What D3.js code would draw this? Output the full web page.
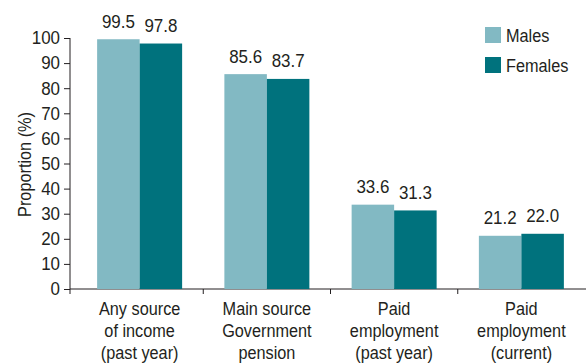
<!DOCTYPE html>
<html>
<head>
<meta charset="utf-8">
<script src="https://cdn.jsdelivr.net/npm/d3@7"></script>
<style>
  html, body { margin: 0; padding: 0; background: #fff; }
  svg text { font-family: "Liberation Sans", Arial, sans-serif; fill: #231f20; }
</style>
</head>
<body>
<svg id="chart" width="586" height="364"></svg>
<script>
// Income sources by sex
const categories = [
  ["Any source", "of income", "(past year)"],
  ["Main source", "Government", "pension"],
  ["Paid", "employment", "(past year)"],
  ["Paid", "employment", "(current)"]
];
const seriesNames = ["Males", "Females"];
const males = [99.5, 85.6, 33.6, 21.2];
const females = [97.8, 83.7, 31.3, 22.0];
const yTicks = [0, 10, 20, 30, 40, 50, 60, 70, 80, 90, 100];
const colors = ["#82b9c3", "#00727d"];

const svg = d3.select("#chart");
const axisX = 70, plotRight = 585, plotTop = 38, plotBottom = 289;

const x = d3.scaleBand().domain(d3.range(categories.length)).range([76, plotRight]);
const y = d3.scaleLinear().domain([0, 100]).range([plotBottom, plotTop]);
const barW = 42.5;

// words use a condensed face; figures keep their natural width
const wordStyle = { size: 18.5, squeeze: 0.88 };
const numStyle = { size: 17.5, squeeze: 0.97 };

function label(parent, tx, ty, str, anchor, style, rotate) {
  const g = parent.append("g")
    .attr("transform", `translate(${tx},${ty})${rotate ? ` rotate(${rotate})` : ""} scale(${style.squeeze},1)`);
  return g.append("text").attr("text-anchor", anchor || "start").attr("font-size", style.size).text(str);
}

// y axis
const yAxis = svg.append("g").attr("transform", `translate(${axisX},0)`)
  .call(d3.axisLeft(y).tickValues(yTicks).tickSize(6).tickFormat(""));
yAxis.select(".domain").attr("stroke", "#231f20").attr("d", `M0,${plotTop}V${plotBottom}`);
yAxis.selectAll(".tick line").attr("stroke", "#231f20");
yTicks.forEach(t => label(svg, axisX - 10, y(t) + 6.3, String(t), "end", numStyle));

// x axis baseline and category separators
svg.append("line").attr("x1", axisX).attr("x2", 586).attr("y1", plotBottom).attr("y2", plotBottom)
  .attr("stroke", "#231f20");
d3.range(categories.length).forEach(i => {
  const bx = i === 0 ? axisX : x(i);
  svg.append("line").attr("x1", bx).attr("x2", bx).attr("y1", plotBottom).attr("y2", plotBottom + 5)
    .attr("stroke", "#231f20");
});

// bars and value labels
[males, females].forEach((vals, s) => {
  const g = svg.append("g");
  vals.forEach((v, i) => {
    const cx = x(i) + x.bandwidth() / 2;
    const bx = cx - barW + s * barW;
    g.append("rect").attr("x", bx).attr("y", y(v)).attr("width", barW).attr("height", plotBottom - y(v))
      .attr("fill", colors[s]);
    label(g, bx + barW / 2, y(v) - 11.5, v.toFixed(1), "middle", numStyle);
  });
});

// category labels
categories.forEach((lines, i) => {
  const cx = x(i) + x.bandwidth() / 2;
  lines.forEach((ln, k) => label(svg, cx, 314.5 + k * 22, ln, "middle", wordStyle));
});

// y title
label(svg, 31, (plotTop + plotBottom) / 2 + 1, "Proportion (%)", "middle", wordStyle, -90);

// legend
seriesNames.forEach((name, s) => {
  const ly = 27 + s * 30;
  svg.append("rect").attr("x", 485).attr("y", ly).attr("width", 16).attr("height", 16).attr("fill", colors[s]);
  label(svg, 506, ly + 15, name, "start", wordStyle);
});
</script>
</body>
</html>
